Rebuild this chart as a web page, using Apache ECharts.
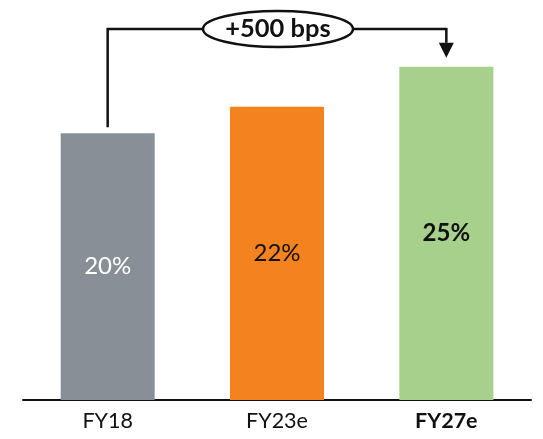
<!DOCTYPE html>
<html>
<head>
<meta charset="utf-8">
<script src="https://cdn.jsdelivr.net/npm/echarts@6/dist/echarts.min.js"></script>
<style>
  html, body { margin: 0; padding: 0; background: #fff; }
  #chart { width: 543px; height: 439px; }
</style>
</head>
<body>
<div id="chart"></div>
<script>
// Margin by fiscal year
const categories = ['FY18', 'FY23e', 'FY27e'];
const marginPct = [20, 22, 25];
const barColors = ['#898f96', '#f4821f', '#a8d08d'];
const labelColors = ['#ffffff', '#111111', '#111111'];
const labelWeights = ['normal', 'normal', 'bold'];
const changeLabel = '+500 bps';

const FONT = 'Lato, "Open Sans", sans-serif';
const chart = echarts.init(document.getElementById('chart'));

const option = {
  animation: false,
  grid: { left: 23, right: 12, top: 0, bottom: 39 },
  xAxis: {
    type: 'category',
    data: categories,
    axisLine: { lineStyle: { color: '#111', width: 2 } },
    axisTick: { show: false },
    axisLabel: {
      margin: 10,
      fontFamily: FONT,
      fontSize: 21.5,
      color: '#111',
      formatter: (v) => v === 'FY27e' ? '{b|' + v + '}' : v,
      rich: { b: { fontFamily: FONT, fontSize: 21.5, fontWeight: 'bold', color: '#111' } }
    }
  },
  yAxis: {
    type: 'value',
    min: 0,
    max: 30,
    show: false
  },
  series: [{
    type: 'bar',
    barWidth: 94,
    data: marginPct.map((v, i) => ({
      value: v,
      itemStyle: { color: barColors[i] },
      label: { color: labelColors[i], fontWeight: labelWeights[i] }
    })),
    label: {
      show: true,
      position: 'inside',
      fontFamily: FONT,
      fontSize: 24,
      formatter: (p) => p.value + '%'
    }
  }]
};
chart.setOption(option);

// Bracket annotation from the first bar to the last, derived from the axes
const first = chart.convertToPixel({ seriesIndex: 0 }, [0, marginPct[0]]);
const last = chart.convertToPixel({ seriesIndex: 0 }, [2, marginPct[2]]);
const yLine = 29;
const xMid = (first[0] + last[0]) / 2 + 1;
const rx = 75, ry = 18;
const lineStyle = { stroke: '#111', lineWidth: 2.5 };

chart.setOption({
  graphic: [
    {
      type: 'polyline',
      shape: { points: [[first[0], first[1] - 6], [first[0], yLine], [xMid - rx, yLine]] },
      style: Object.assign({ fill: null }, lineStyle)
    },
    {
      type: 'polyline',
      shape: { points: [[xMid + rx, yLine], [last[0], yLine], [last[0], last[1] - 24]] },
      style: Object.assign({ fill: null }, lineStyle)
    },
    {
      type: 'polygon',
      shape: { points: [[last[0] - 7.5, last[1] - 24], [last[0] + 7.5, last[1] - 24], [last[0], last[1] - 9]] },
      style: { fill: '#111' }
    },
    {
      type: 'ellipse',
      shape: { cx: xMid, cy: yLine, rx: rx, ry: ry },
      style: { fill: '#fff', stroke: '#111', lineWidth: 2.5 }
    },
    {
      type: 'text',
      x: xMid,
      y: yLine,
      style: {
        text: changeLabel,
        fontFamily: FONT,
        fontSize: 25.5,
        fontWeight: 'bold',
        fill: '#111',
        align: 'center',
        verticalAlign: 'middle'
      }
    }
  ]
});
</script>
</body>
</html>
